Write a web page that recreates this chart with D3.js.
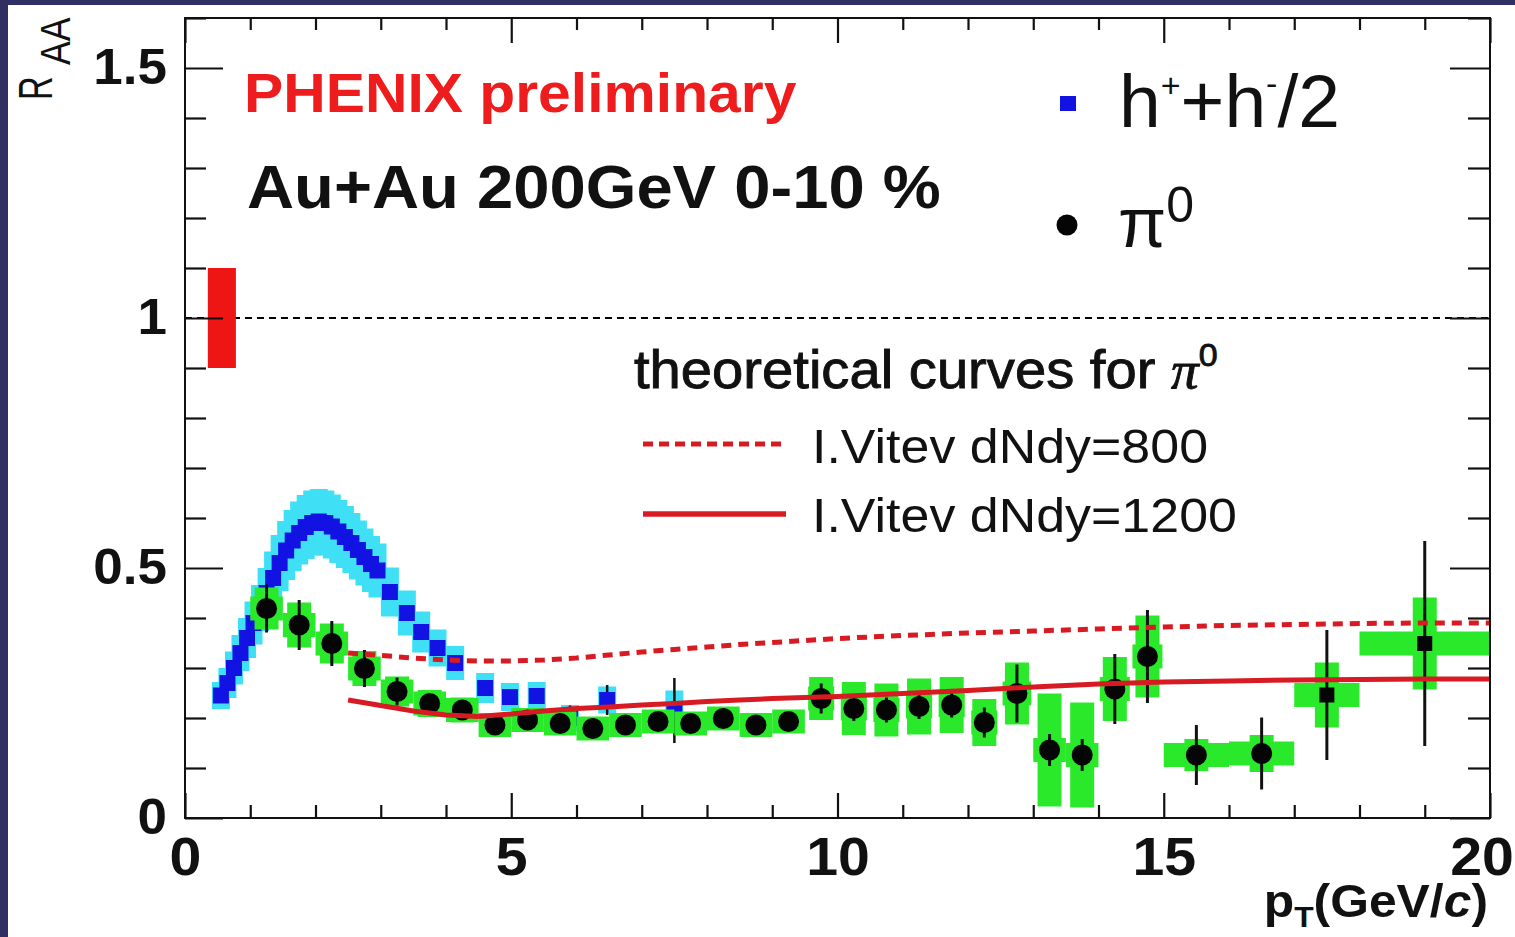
<!DOCTYPE html>
<html>
<head>
<meta charset="utf-8">
<script src="https://cdn.jsdelivr.net/npm/d3@7"></script>
<style>
  html, body { margin: 0; padding: 0; background: #2f2f63; }
  svg { display: block; }
  text { font-family: "Liberation Sans", Arial, Helvetica, sans-serif; }
</style>
</head>
<body>
<svg id="chart" width="1515" height="937"></svg>
<script>
// ---------------- data ----------------
// charged hadrons (h+ + h-)/2
const hX    = [0.55,0.65,0.75,0.85,0.95,1.05,1.15,1.25,1.35,1.45,1.55,1.65,1.75,1.85,1.95,2.05,2.15,2.25,2.35,2.45,2.55,2.65,2.75,2.85,2.95,
               3.14,3.40,3.62,3.87,4.14,4.60,4.98,5.39,5.90,6.47,7.50];
const hY    = [0.245,0.27,0.30,0.33,0.36,0.39,0.42,0.45,0.48,0.51,0.535,0.555,0.57,0.582,0.59,0.593,0.59,0.583,0.573,0.562,0.55,0.536,0.522,0.508,0.495,
               0.452,0.41,0.372,0.34,0.31,0.26,0.242,0.244,0.20,0.236,0.215];
const hSys  = [0.027,0.03,0.033,0.036,0.04,0.043,0.046,0.05,0.053,0.056,0.059,0.061,0.063,0.064,0.065,0.065,0.065,0.064,0.063,0.062,0.06,0.059,0.057,0.056,0.054,
               0.049,0.045,0.041,0.037,0.034,0.03,0.028,0.028,0.026,0.027,0.04];
const hStat = [0.004,0.004,0.004,0.004,0.004,0.004,0.004,0.004,0.004,0.004,0.004,0.004,0.004,0.004,0.004,0.004,0.004,0.004,0.004,0.004,0.004,0.004,0.004,0.004,0.004,
               0.005,0.005,0.006,0.006,0.007,0.008,0.01,0.012,0.025,0.03,0.065];

// pi0
const piX    = [1.25,1.75,2.25,2.75,3.25,3.75,4.25,4.75,5.25,5.75,6.25,6.75,7.25,7.75,8.25,8.75,9.25,9.75,10.25,10.75,11.25,11.75,12.25,12.75,13.25,13.75,14.25,14.75,15.5,16.5,17.5,19.0];
const piY    = [0.419,0.386,0.349,0.299,0.253,0.229,0.216,0.186,0.196,0.189,0.179,0.186,0.193,0.189,0.199,0.186,0.193,0.239,0.219,0.216,0.223,0.226,0.191,0.249,0.136,0.126,0.258,0.323,0.126,0.129,0.246,0.349];
const piStat = [0.048,0.05,0.045,0.037,0.028,0.02,0.015,0.01,0.01,0.01,0.01,0.01,0.01,0.01,0.01,0.01,0.01,0.03,0.025,0.025,0.025,0.025,0.03,0.058,0.032,0.032,0.07,0.093,0.06,0.072,0.13,0.205];
const piSys  = [0.042,0.045,0.04,0.035,0.03,0.027,0.025,0.022,0.023,0.022,0.021,0.022,0.022,0.022,0.023,0.022,0.022,0.043,0.053,0.053,0.056,0.056,0.047,0.062,0.113,0.105,0.064,0.082,0.032,0.037,0.065,0.092];
const piXerr = [0.25,0.25,0.25,0.25,0.25,0.25,0.25,0.25,0.25,0.25,0.25,0.25,0.25,0.25,0.25,0.25,0.25,0.2,0.2,0.2,0.2,0.2,0.2,0.22,0.25,0.25,0.23,0.23,0.5,0.5,0.5,1.0];
const piShape = ["c","c","c","c","c","c","c","c","c","c","c","c","c","c","c","c","c","c","c","c","c","c","c","c","c","c","c","c","c","c","s","s"];

// theory curves (I. Vitev)
const thX     = [2.5,3,3.5,4,4.5,5,5.5,6,6.5,7,7.5,8,8.5,9,9.5,10,11,12,13,14,15,16,17,18,19,20];
const th800Y  = [0.33,0.325,0.32,0.316,0.314,0.314,0.316,0.32,0.326,0.332,0.337,0.342,0.347,0.351,0.355,0.359,0.365,0.37,0.374,0.378,0.382,0.385,0.387,0.389,0.39,0.39];
const th1200Y = [0.236,0.225,0.214,0.206,0.203,0.208,0.214,0.219,0.222,0.226,0.229,0.233,0.236,0.239,0.241,0.243,0.249,0.255,0.262,0.268,0.272,0.274,0.276,0.277,0.278,0.278];

// normalization uncertainty box
const normX = [0.35, 0.78];
const normY = [0.9, 1.1];

// axes
const xDomain = [0, 20];
const yDomain = [0, 1.6];
const xMajor = [0, 5, 10, 15, 20];
const xMinor = [1,2,3,4,6,7,8,9,11,12,13,14,16,17,18,19];
const yMajor = [0, 0.5, 1, 1.5];
const yMinor = [0.1,0.2,0.3,0.4,0.6,0.7,0.8,0.9,1.1,1.2,1.3,1.4,1.6];

// ---------------- drawing ----------------
const SX = 1.06; // horizontal stretch of the reference's lettering
const svg = d3.select("#chart");
svg.append("rect").attr("x", 0).attr("y", 0).attr("width", 1515).attr("height", 937).attr("fill", "#2f2f63");
svg.append("rect").attr("x", 8).attr("y", 5).attr("width", 1507).attr("height", 932).attr("fill", "#ffffff");

const L = 185, R = 1490, T = 18, B = 818;
const x = d3.scaleLinear().domain(xDomain).range([L, R]);
const y = d3.scaleLinear().domain(yDomain).range([B, T]);

svg.append("defs").append("clipPath").attr("id", "plotclip")
  .append("rect").attr("x", L).attr("y", T).attr("width", R - L).attr("height", B - T);

const plot = svg.append("g").attr("clip-path", "url(#plotclip)");

const hData = hX.map((v, i) => ({x: v, y: hY[i], sys: hSys[i], stat: hStat[i]}));
const piData = piX.map((v, i) => ({x: v, y: piY[i], sys: piSys[i], stat: piStat[i], xe: piXerr[i], shape: piShape[i]}));

// h: systematic boxes (cyan)
const hBoxW = 18;
plot.append("g").selectAll("rect").data(hData).join("rect")
  .attr("x", d => x(d.x) - hBoxW / 2).attr("width", hBoxW)
  .attr("y", d => y(d.y + d.sys)).attr("height", d => y(d.y - d.sys) - y(d.y + d.sys))
  .attr("fill", "#3fe0f6");
// h: stat bars
plot.append("g").selectAll("line").data(hData).join("line")
  .attr("x1", d => x(d.x)).attr("x2", d => x(d.x))
  .attr("y1", d => y(d.y + d.stat)).attr("y2", d => y(d.y - d.stat))
  .attr("stroke", "#111").attr("stroke-width", 2.5);
// h: markers
const hM = 16;
plot.append("g").selectAll("rect").data(hData).join("rect")
  .attr("x", d => x(d.x) - hM / 2).attr("y", d => y(d.y) - hM / 2)
  .attr("width", hM).attr("height", hM).attr("fill", "#1212e2");

// pi0: systematic crosses (green)
const green = "#2ae82a";
const vBarW = 24, hBarH = 24;
const gPi = plot.append("g");
gPi.append("g").selectAll("rect").data(piData).join("rect")
  .attr("x", d => x(d.x) - vBarW / 2).attr("width", vBarW)
  .attr("y", d => y(d.y + d.sys)).attr("height", d => y(d.y - d.sys) - y(d.y + d.sys))
  .attr("fill", green);
gPi.append("g").selectAll("rect").data(piData).join("rect")
  .attr("x", d => x(d.x - d.xe)).attr("width", d => x(d.x + d.xe) - x(d.x - d.xe))
  .attr("y", d => y(d.y) - hBarH / 2).attr("height", hBarH)
  .attr("fill", green);
// pi0 stat bars
gPi.append("g").selectAll("line").data(piData).join("line")
  .attr("x1", d => x(d.x)).attr("x2", d => x(d.x))
  .attr("y1", d => y(d.y + d.stat)).attr("y2", d => y(d.y - d.stat))
  .attr("stroke", "#111").attr("stroke-width", 3);
// pi0 markers
gPi.append("g").selectAll("circle").data(piData.filter(d => d.shape === "c")).join("circle")
  .attr("cx", d => x(d.x)).attr("cy", d => y(d.y)).attr("r", 10.5).attr("fill", "#050505");
gPi.append("g").selectAll("rect").data(piData.filter(d => d.shape === "s")).join("rect")
  .attr("x", d => x(d.x) - 7.5).attr("y", d => y(d.y) - 7.5).attr("width", 15).attr("height", 15).attr("fill", "#050505");

// dashed line at R_AA = 1
plot.append("line").attr("x1", x(0)).attr("x2", x(20)).attr("y1", y(1)).attr("y2", y(1))
  .attr("stroke", "#000").attr("stroke-width", 2).attr("stroke-dasharray", "7,5");
// normalization box
plot.append("rect").attr("x", x(normX[0])).attr("width", x(normX[1]) - x(normX[0]))
  .attr("y", y(normY[1])).attr("height", y(normY[0]) - y(normY[1])).attr("fill", "#ee1515");

// theory curves
const redLine = "#d81b22";
const line = d3.line().x(d => x(d[0])).y(d => y(d[1]));
plot.append("path").datum(thX.map((v, i) => [v, th800Y[i]])).attr("d", line)
  .attr("fill", "none").attr("stroke", redLine).attr("stroke-width", 5).attr("stroke-dasharray", "10,7");
plot.append("path").datum(thX.map((v, i) => [v, th1200Y[i]])).attr("d", line)
  .attr("fill", "none").attr("stroke", redLine).attr("stroke-width", 5);

// ---------------- frame & axes ----------------
svg.append("rect").attr("x", L).attr("y", T).attr("width", R - L).attr("height", B - T)
  .attr("fill", "none").attr("stroke", "#111").attr("stroke-width", 2);

function styleAxis(g) {
  g.select(".domain").remove();
  g.selectAll(".tick line").attr("stroke", "#111").attr("stroke-width", 2.2);
}
// bottom
const gxB = svg.append("g").attr("transform", `translate(0,${B})`)
  .call(d3.axisBottom(x).tickValues(xMajor).tickSizeInner(-25).tickSizeOuter(0).tickPadding(19).tickFormat(d3.format("d")));
styleAxis(gxB);
gxB.selectAll(".tick text").attr("font-family", "Liberation Sans, Arial, sans-serif").attr("font-size", 54)
  .attr("font-weight", "bold").attr("fill", "#111").attr("transform", `scale(${SX},1)`);
// keep the last label inside the picture, as in the reference
gxB.selectAll(".tick text").filter(d => d === xDomain[1]).attr("text-anchor", "end").attr("x", 22);
svg.append("g").attr("transform", `translate(0,${B})`)
  .call(d3.axisBottom(x).tickValues(xMinor).tickSizeInner(-13).tickSizeOuter(0).tickFormat(""))
  .call(styleAxis);
// top
svg.append("g").attr("transform", `translate(0,${T})`)
  .call(d3.axisTop(x).tickValues(xMajor).tickSizeInner(-25).tickSizeOuter(0).tickFormat(""))
  .call(styleAxis);
svg.append("g").attr("transform", `translate(0,${T})`)
  .call(d3.axisTop(x).tickValues(xMinor).tickSizeInner(-12).tickSizeOuter(0).tickFormat(""))
  .call(styleAxis);
// left
const gyL = svg.append("g").attr("transform", `translate(${L},0)`)
  .call(d3.axisLeft(y).tickValues(yMajor).tickSizeInner(-38).tickSizeOuter(0).tickPadding(17).tickFormat(d => String(d)));
styleAxis(gyL);
gyL.selectAll(".tick text").attr("font-family", "Liberation Sans, Arial, sans-serif").attr("font-size", 50)
  .attr("font-weight", "bold").attr("fill", "#111").attr("dy", "0.3em").attr("transform", `scale(${SX},1)`);
svg.append("g").attr("transform", `translate(${L},0)`)
  .call(d3.axisLeft(y).tickValues(yMinor).tickSizeInner(-21).tickSizeOuter(0).tickFormat(""))
  .call(styleAxis);
// right
svg.append("g").attr("transform", `translate(${R},0)`)
  .call(d3.axisRight(y).tickValues(yMajor).tickSizeInner(-40).tickSizeOuter(0).tickFormat(""))
  .call(styleAxis);
svg.append("g").attr("transform", `translate(${R},0)`)
  .call(d3.axisRight(y).tickValues(yMinor).tickSizeInner(-22).tickSizeOuter(0).tickFormat(""))
  .call(styleAxis);

// ---------------- texts ----------------
function label(px, py, opts) {
  const g = svg.append("g").attr("transform", `translate(${px},${py}) scale(${opts.sx || SX},1)`);
  const t = g.append("text").attr("x", 0).attr("y", 0)
    .attr("font-size", opts.size).attr("font-weight", opts.weight || "normal")
    .attr("fill", opts.fill || "#111").attr("text-anchor", opts.anchor || "start");
  if (opts.family) t.attr("font-family", opts.family);
  return t;
}

label(244, 112, {size: 55.5, weight: "bold", fill: "#ee1c1c"}).text("PHENIX preliminary");
label(247, 208, {size: 61.5, weight: "bold"}).text("Au+Au 200GeV 0-10 %");

// legend: data
svg.append("rect").attr("x", 1060).attr("y", 96).attr("width", 16).attr("height", 15).attr("fill", "#1212e2");
const tH = label(1119, 127, {size: 75, sx: 1});
tH.append("tspan").text("h");
tH.append("tspan").attr("font-size", 34).attr("dy", -30).text("+");
tH.append("tspan").attr("dy", 30).text("+h");
tH.append("tspan").attr("font-size", 34).attr("dy", -32).text("-");
tH.append("tspan").attr("dy", 32).text("/2");

svg.append("circle").attr("cx", 1067).attr("cy", 225).attr("r", 10.5).attr("fill", "#050505");
const tPi = label(1118, 247, {size: 70, sx: 1, family: "DejaVu Serif, Liberation Serif, serif"});
tPi.append("tspan").text("π");
tPi.append("tspan").attr("font-size", 50).attr("dy", -25).attr("font-family", "Liberation Sans, Arial, sans-serif").text("0");

// legend: theory
const tTh = label(634, 388, {size: 53});
tTh.attr("stroke", "#111").attr("stroke-width", 0.9);
tTh.append("tspan").text("theoretical curves for ");
tTh.append("tspan").attr("font-family", "Liberation Serif, Times New Roman, serif").attr("font-style", "italic").attr("font-size", 52).text("π");
tTh.append("tspan").attr("font-size", 32).attr("dy", -22).text("0");

svg.append("line").attr("x1", 643).attr("x2", 787).attr("y1", 444).attr("y2", 444)
  .attr("stroke", redLine).attr("stroke-width", 5).attr("stroke-dasharray", "10,6");
svg.append("line").attr("x1", 643).attr("x2", 786).attr("y1", 514).attr("y2", 514)
  .attr("stroke", redLine).attr("stroke-width", 5.5);
label(812, 463, {size: 49}).text("I.Vitev dNdy=800");
label(812, 532, {size: 49}).text("I.Vitev dNdy=1200");

// axis titles
const tX = label(1488, 917, {size: 47, weight: "bold", anchor: "end"});
tX.append("tspan").text("p");
tX.append("tspan").attr("font-size", 30).attr("dy", 10).text("T");
tX.append("tspan").attr("dy", -10).text("(GeV/");
tX.append("tspan").attr("font-style", "italic").text("c");
tX.append("tspan").text(")");

const gY = svg.append("g").attr("transform", "translate(52,100) rotate(-90)");
gY.append("g").attr("transform", "scale(0.68,1)")
  .append("text").attr("font-size", 48).attr("fill", "#111").text("R");
gY.append("g").attr("transform", "translate(35,18) scale(0.85,1)")
  .append("text").attr("font-size", 42).attr("fill", "#111").text("AA");
</script>
</body>
</html>
